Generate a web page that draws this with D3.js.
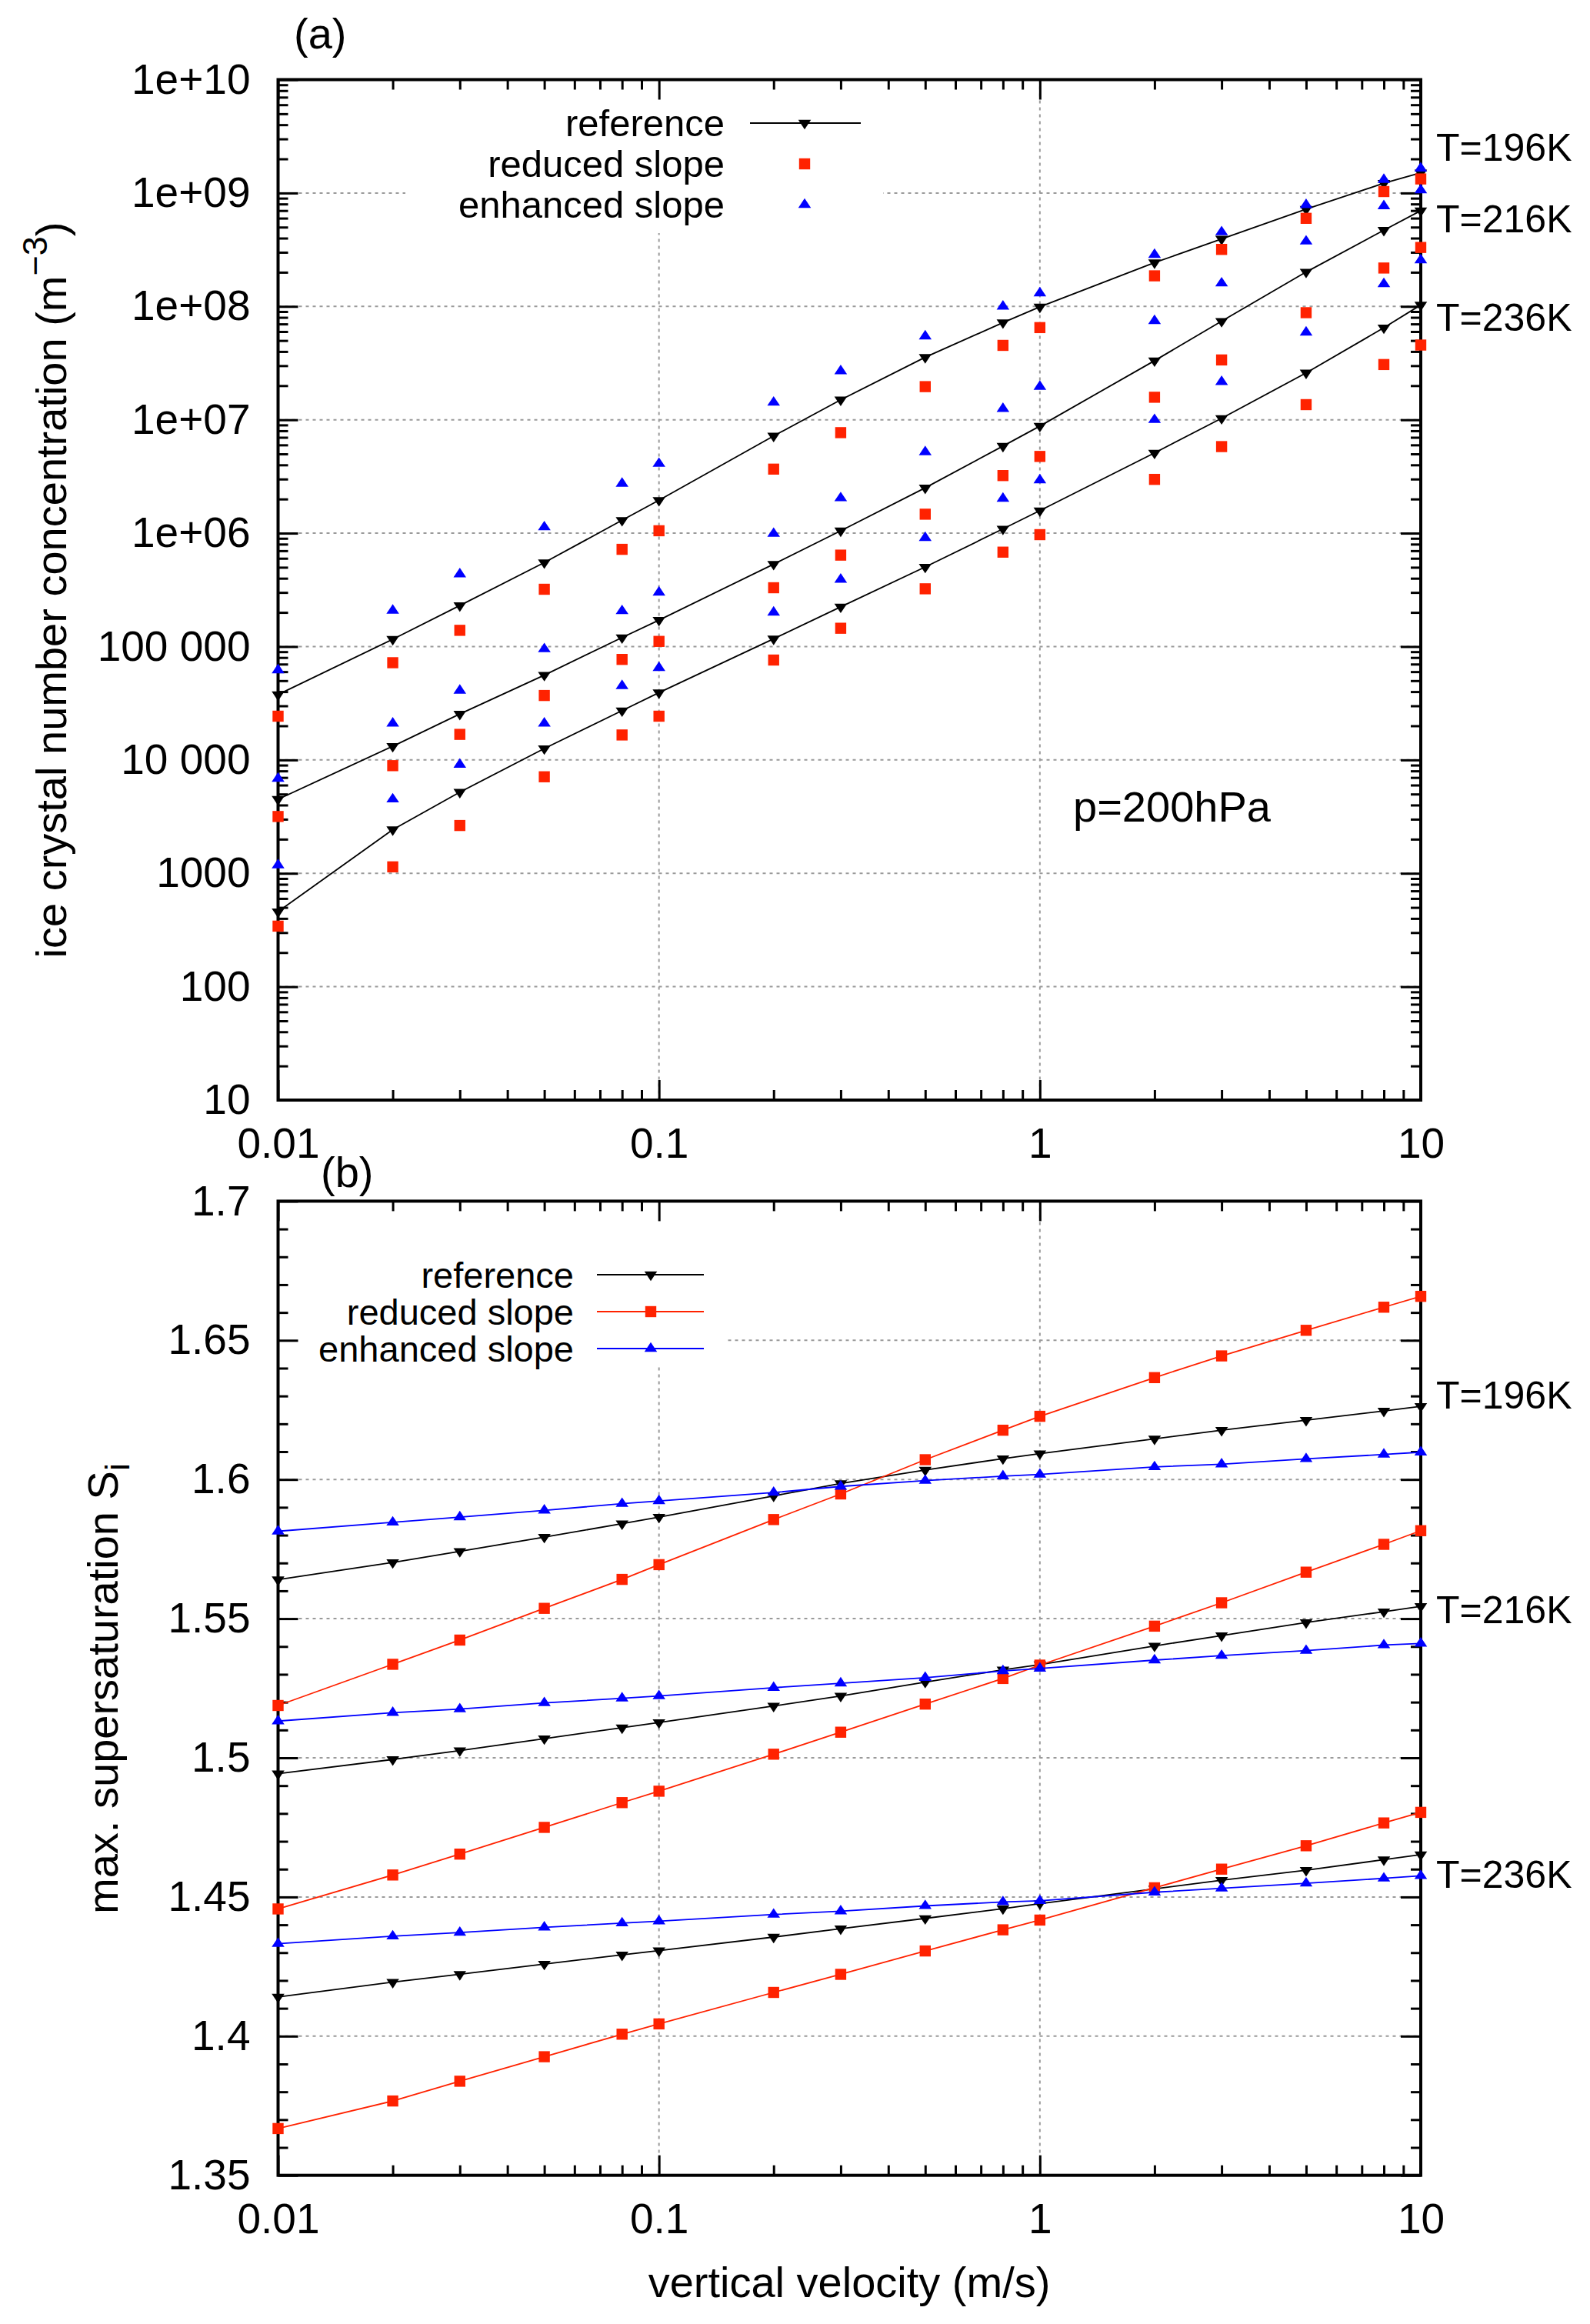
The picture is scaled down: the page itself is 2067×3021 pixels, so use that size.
<!DOCTYPE html>
<html><head><meta charset="utf-8">
<script src="https://cdnjs.cloudflare.com/ajax/libs/d3/7.8.5/d3.min.js"></script>
<style>
body{margin:0;background:#fff}
svg{display:block}
text{font-family:"Liberation Sans",Arial,Helvetica,sans-serif;fill:#000}
</style>
</head><body>
<svg id="chart" width="2067" height="3021"></svg>
<script>
// ---------------- data ----------------
const velocity = [0.01,0.02,0.03,0.05,0.08,0.1,0.2,0.3,0.5,0.8,1,2,3,5,8,10];
const temperatures = ["T=196K","T=216K","T=236K"];
const seriesNames = ["reference","reduced slope","enhanced slope"];

// (a) ice crystal number concentration (m^-3)
const nRef196 = [3.77e4,1.16e5,2.3e5,5.5e5,1.3e6,1.95e6,7.2e6,1.5e7,3.56e7,7.2e7,9.9e7,2.43e8,3.93e8,7.2e8,1.22e9,1.51e9];
const nRed196 = [2.43e4,7.2e4,1.39e5,3.2e5,7.2e5,1.05e6,3.67e6,7.7e6,1.96e7,4.53e7,6.5e7,1.86e8,3.18e8,5.98e8,1.03e9,1.33e9];
const nEnh196 = [6.2e4,2.08e5,4.35e5,1.13e6,2.74e6,4.1e6,1.42e7,2.69e7,5.46e7,1.0e8,1.31e8,2.86e8,4.52e8,7.85e8,1.31e9,1.65e9];
const nRef216 = [4.5e3,1.32e4,2.54e4,5.6e4,1.2e5,1.71e5,5.33e5,1.05e6,2.51e6,5.86e6,8.8e6,3.32e7,7.4e7,2.01e8,4.7e8,6.98e8];
const nRed216 = [3.17e3,8.9e3,1.68e4,3.7e4,7.7e4,1.11e5,3.3e5,6.4e5,1.47e6,3.22e6,4.75e6,1.58e7,3.37e7,8.8e7,2.18e8,3.31e8];
const nEnh216 = [6.85e3,2.1e4,4.1e4,9.5e4,2.06e5,3.0e5,9.9e5,2.04e6,5.2e6,1.25e7,1.96e7,7.45e7,1.6e8,3.75e8,7.67e8,1.06e9];
const nRef236 = [459,2.43e3,5.2e3,1.26e4,2.72e4,3.92e4,1.17e5,2.24e5,5.03e5,1.09e6,1.58e6,5.1e6,1.03e7,2.59e7,6.48e7,1.03e8];
const nRed236 = [342,1.14e3,2.64e3,7.1e3,1.66e4,2.43e4,7.6e4,1.45e5,3.23e5,6.8e5,9.7e5,2.98e6,5.8e6,1.36e7,3.07e7,4.56e7];
const nEnh236 = [1.18e3,4.5e3,9.1e3,2.1e4,4.5e4,6.5e4,2.0e5,3.9e5,9.1e5,2.02e6,2.94e6,1.0e7,2.16e7,5.9e7,1.58e8,2.56e8];

// (b) max. supersaturation S_i
const sRef196 = [1.5640,1.5702,1.5742,1.5793,1.5841,1.5865,1.5941,1.5986,1.6034,1.6075,1.6093,1.6146,1.6177,1.6213,1.6246,1.6263];
const sRed196 = [1.5188,1.5336,1.5423,1.5537,1.5641,1.5694,1.5856,1.5948,1.6071,1.6177,1.6227,1.6366,1.6444,1.6536,1.6619,1.6658];
const sEnh196 = [1.5814,1.5846,1.5865,1.5889,1.5913,1.5923,1.5953,1.5975,1.5996,1.6012,1.6018,1.6045,1.6055,1.6074,1.6090,1.6098];
const sRef216 = [1.4943,1.4994,1.5026,1.5069,1.5108,1.5127,1.5186,1.5222,1.5272,1.5316,1.5335,1.5402,1.5439,1.5486,1.5525,1.5544];
const sRed216 = [1.4457,1.4579,1.4654,1.4750,1.4839,1.4880,1.5013,1.5092,1.5193,1.5285,1.5333,1.5473,1.5557,1.5667,1.5767,1.5816];
const sEnh216 = [1.5132,1.5162,1.5175,1.5197,1.5214,1.5222,1.5252,1.5268,1.5288,1.5312,1.5321,1.5351,1.5367,1.5385,1.5405,1.5411];
const sRef236 = [1.4141,1.4194,1.4222,1.4259,1.4292,1.4307,1.4356,1.4386,1.4423,1.4458,1.4476,1.4529,1.4560,1.4596,1.4634,1.4652];
const sRed236 = [1.3668,1.3767,1.3838,1.3926,1.4007,1.4044,1.4157,1.4222,1.4306,1.4382,1.4417,1.4533,1.4600,1.4684,1.4766,1.4804];
const sEnh236 = [1.4332,1.4359,1.4372,1.4391,1.4406,1.4413,1.4437,1.4449,1.4468,1.4482,1.4486,1.4517,1.4531,1.4549,1.4567,1.4576];

// ticks
const xTickValues = [0.01,0.1,1,10];
const xTickLabels = ["0.01","0.1","1","10"];
const yTickValuesA = [1e1,1e2,1e3,1e4,1e5,1e6,1e7,1e8,1e9,1e10];
const yTickLabelsA = ["10","100","1000","10 000","100 000","1e+06","1e+07","1e+08","1e+09","1e+10"];
const yTickValuesB = [1.35,1.40,1.45,1.50,1.55,1.60,1.65,1.70];
const yTickLabelsB = ["1.35","1.4","1.45","1.5","1.55","1.6","1.65","1.7"];

// ---------------- drawing ----------------
const W = 2067, H = 3021;
const RED = "#ff2200", BLUE = "#0000ff", BLACK = "#000000";
const FONT = '"Liberation Sans", Arial, Helvetica, sans-serif';
const svg = d3.select("#chart");
svg.append("rect").attr("width", W).attr("height", H).attr("fill", "#fff");

const X0 = 361.5, X1 = 1847;
const x = d3.scaleLog().domain([0.01, 10]).range([X0, X1]);
const yA = d3.scaleLog().domain([10, 1e10]).range([1430, 103.5]);
const yB = d3.scaleLinear().domain([1.35, 1.7]).range([2827.7, 1561.4]);

const xMinor = [];
[0.01, 0.1, 1].forEach(d => { for (let k = 2; k <= 9; k++) xMinor.push(k * d); });
const yMinorA = [];
for (let e = 1; e < 10; e++) for (let k = 2; k <= 9; k++) yMinorA.push(k * Math.pow(10, e));
const yMinorB = d3.range(135, 171).filter(v => v % 5 !== 0).map(v => v / 100);

const fmtX = d => xTickLabels[xTickValues.indexOf(d)];

function drawGrid(y, yGridVals, xGridVals) {
  const g = svg.append("g").attr("stroke", "#9a9a9a").attr("stroke-width", 2)
    .attr("stroke-dasharray", "4,5").attr("fill", "none");
  yGridVals.forEach(v => g.append("line").attr("x1", X0).attr("x2", X1).attr("y1", y(v)).attr("y2", y(v)));
  xGridVals.forEach(v => g.append("line").attr("x1", x(v)).attr("x2", x(v)).attr("y1", y.range()[1]).attr("y2", y.range()[0]));
}

function styleAxis(g) {
  g.select(".domain").remove();
  g.attr("font-size", 55).attr("font-family", FONT);
  g.selectAll(".tick line").attr("stroke", "#000").attr("stroke-width", 3);
  g.selectAll(".tick text").attr("fill", "#000");
}

function drawAxes(y, yMajor, yMinor, yFmt) {
  const yb = y.range()[0], yt = y.range()[1];
  const MAJ = -26, MIN = -13;
  svg.append("g").attr("transform", `translate(0,${yb})`)
    .call(d3.axisBottom(x).tickValues(xTickValues).tickSizeInner(MAJ).tickSizeOuter(0).tickPadding(36).tickFormat(fmtX)).call(styleAxis);
  svg.append("g").attr("transform", `translate(0,${yb})`)
    .call(d3.axisBottom(x).tickValues(xMinor).tickSizeInner(MIN).tickSizeOuter(0).tickFormat("")).call(styleAxis);
  svg.append("g").attr("transform", `translate(0,${yt})`)
    .call(d3.axisTop(x).tickValues(xTickValues).tickSizeInner(MAJ).tickSizeOuter(0).tickFormat("")).call(styleAxis);
  svg.append("g").attr("transform", `translate(0,${yt})`)
    .call(d3.axisTop(x).tickValues(xMinor).tickSizeInner(MIN).tickSizeOuter(0).tickFormat("")).call(styleAxis);
  svg.append("g").attr("transform", `translate(${X0},0)`)
    .call(d3.axisLeft(y).tickValues(yMajor).tickSizeInner(MAJ).tickSizeOuter(0).tickPadding(36).tickFormat(yFmt)).call(styleAxis);
  svg.append("g").attr("transform", `translate(${X0},0)`)
    .call(d3.axisLeft(y).tickValues(yMinor).tickSizeInner(MIN).tickSizeOuter(0).tickFormat("")).call(styleAxis);
  svg.append("g").attr("transform", `translate(${X1},0)`)
    .call(d3.axisRight(y).tickValues(yMajor).tickSizeInner(MAJ).tickSizeOuter(0).tickFormat("")).call(styleAxis);
  svg.append("g").attr("transform", `translate(${X1},0)`)
    .call(d3.axisRight(y).tickValues(yMinor).tickSizeInner(MIN).tickSizeOuter(0).tickFormat("")).call(styleAxis);
  svg.append("rect").attr("x", X0).attr("y", yt).attr("width", X1 - X0).attr("height", yb - yt)
    .attr("fill", "none").attr("stroke", "#000").attr("stroke-width", 4);
}

// marker shapes (gnuplot-like)
const h = 6.2;
const triDown = `M${-4*h/3},${-2*h/3}L${4*h/3},${-2*h/3}L0,${4*h/3}Z`;
const triUp = `M${-4*h/3},${2*h/3}L${4*h/3},${2*h/3}L0,${-4*h/3}Z`;
const sq = 7.2;
const square = `M${-sq},${-sq}H${sq}V${sq}H${-sq}Z`;
const shapes = [triDown, square, triUp];
const colors = [BLACK, RED, BLUE];

function drawMarkers(vals, y, shape, color) {
  svg.append("g").selectAll("path").data(velocity.map((v, i) => [v, vals[i]])).join("path")
    .attr("d", shape).attr("fill", color)
    .attr("transform", d => `translate(${x(d[0])},${y(d[1])})`);
}
function drawLine(vals, y, color) {
  const line = d3.line().x(d => x(d[0])).y(d => y(d[1]));
  svg.append("path").datum(velocity.map((v, i) => [v, vals[i]]))
    .attr("d", line).attr("fill", "none").attr("stroke", color).attr("stroke-width", 1.8);
}

// ===== Panel (a) =====
drawGrid(yA, yTickValuesA.slice(1, -1), [0.1, 1]);
// opaque key box
svg.append("rect").attr("x", 527).attr("y", 106).attr("width", 621).attr("height", 197).attr("fill", "#fff");
drawAxes(yA, yTickValuesA, yMinorA, d => yTickLabelsA[yTickValuesA.indexOf(d)]);

const panelA = [[nRef196, nRed196, nEnh196], [nRef216, nRed216, nEnh216], [nRef236, nRed236, nEnh236]];
panelA.forEach(set => {
  drawLine(set[0], yA, BLACK);
  drawMarkers(set[0], yA, triDown, BLACK);
  drawMarkers(set[1], yA, square, RED);
  drawMarkers(set[2], yA, triUp, BLUE);
});

// legend (a)
const legA = svg.append("g").attr("font-size", 49);
[160, 213, 266].forEach((ly, i) => {
  legA.append("text").attr("x", 942).attr("y", ly + 17).attr("text-anchor", "end").text(seriesNames[i]);
  if (i === 0) legA.append("line").attr("x1", 975).attr("x2", 1119).attr("y1", ly).attr("y2", ly)
    .attr("stroke", BLACK).attr("stroke-width", 1.8);
  legA.append("path").attr("d", shapes[i]).attr("fill", colors[i]).attr("transform", `translate(1046,${ly})`);
});

// temperature labels (a)
[191, 284, 412].forEach((ty, i) => {
  svg.append("text").attr("x", 1867).attr("y", ty + 18).attr("font-size", 50).text(temperatures[i]);
});
svg.append("text").attr("x", 1395).attr("y", 1068).attr("font-size", 56).text("p=200hPa");
svg.append("text").attr("x", 382).attr("y", 63).attr("font-size", 56).text("(a)");

// y label (a)
const ylA = svg.append("text").attr("transform", "translate(86,767) rotate(-90)")
  .attr("text-anchor", "middle").attr("font-size", 56);
ylA.append("tspan").text("ice crystal number concentration (m");
ylA.append("tspan").attr("font-size", 45).attr("dy", -25).text("\u22123");
ylA.append("tspan").attr("dy", 25).text(")");

// ===== Panel (b) =====
drawGrid(yB, yTickValuesB.slice(1, -1), [0.1, 1]);
svg.append("rect").attr("x", 364).attr("y", 1564).attr("width", 579).attr("height", 212).attr("fill", "#fff");
drawAxes(yB, yTickValuesB, yMinorB, d => yTickLabelsB[yTickValuesB.indexOf(d)]);

const panelB = [[sRef196, sRed196, sEnh196], [sRef216, sRed216, sEnh216], [sRef236, sRed236, sEnh236]];
panelB.forEach(set => {
  set.forEach((vals, j) => {
    drawLine(vals, yB, colors[j]);
    drawMarkers(vals, yB, shapes[j], colors[j]);
  });
});

// legend (b)
const legB = svg.append("g").attr("font-size", 47);
[1657, 1705, 1753].forEach((ly, i) => {
  legB.append("text").attr("x", 746).attr("y", ly + 17).attr("text-anchor", "end").text(seriesNames[i]);
  legB.append("line").attr("x1", 776).attr("x2", 915).attr("y1", ly).attr("y2", ly)
    .attr("stroke", colors[i]).attr("stroke-width", 1.8);
  legB.append("path").attr("d", shapes[i]).attr("fill", colors[i]).attr("transform", `translate(846,${ly})`);
});

[1813, 2092, 2436].forEach((ty, i) => {
  svg.append("text").attr("x", 1867).attr("y", ty + 18).attr("font-size", 50).text(temperatures[i]);
});
svg.append("text").attr("x", 417).attr("y", 1543).attr("font-size", 56).text("(b)");

const ylB = svg.append("text").attr("transform", "translate(153,2195) rotate(-90)")
  .attr("text-anchor", "middle").attr("font-size", 56);
ylB.append("tspan").text("max. supersaturation S");
ylB.append("tspan").attr("font-size", 45).attr("dy", 15).text("i");

svg.append("text").attr("x", 1104).attr("y", 2986).attr("text-anchor", "middle").attr("font-size", 56)
  .text("vertical velocity (m/s)");
</script>
</body></html>
